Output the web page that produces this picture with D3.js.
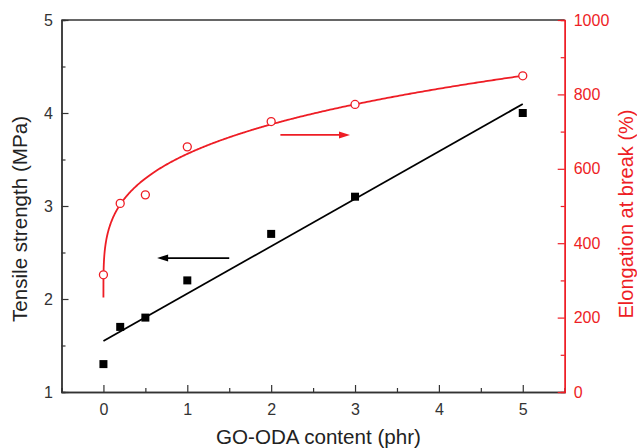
<!DOCTYPE html>
<html>
<head>
<meta charset="utf-8">
<script src="https://cdn.jsdelivr.net/npm/d3@7"></script>
<style>
  html, body { margin: 0; padding: 0; background: #fff; }
  svg { display: block; font-family: Arial, "Liberation Sans", Helvetica, sans-serif; }
</style>
</head>
<body>
<svg id="chart" width="637" height="448"></svg>
<script>
// GO-ODA loading (phr)
const content = [0, 0.2, 0.5, 1, 2, 3, 5];
// Tensile strength (MPa)
const tensile = [1.3, 1.7, 1.8, 2.2, 2.7, 3.1, 4.0];
// Elongation at break (%)
const elongation = [315, 507, 530, 659, 727, 773, 850];

// Axis ticks
const xTicks = [0, 1, 2, 3, 4, 5];
const yLeftTicks = [1, 2, 3, 4, 5];
const yRightTicks = [0, 200, 400, 600, 800, 1000];

// Allometric fit of elongation: y = a + b * x^c
const elongFit = { a: 254, b: 386, c: 0.27 };

// Annotation arrows (data units): which axis each one refers to
const arrowTensile = { from: [1.5, 2.44], to: [0.64, 2.44] };
const arrowElong = { from: [2.11, 691], to: [2.94, 691] };

const RED = "#ee1d25";
const svg = d3.select("#chart");
const m = { left: 61.5, right: 564.7, top: 20, bottom: 392 };

const x = d3.scaleLinear().domain([-0.5, 5.5]).range([m.left, m.right]);
const yL = d3.scaleLinear().domain([1, 5]).range([m.bottom, m.top]);
const yR = d3.scaleLinear().domain([0, 1000]).range([m.bottom, m.top]);

const tickFont = 16;

// top frame line
svg.append("line")
  .attr("x1", m.left).attr("x2", m.right).attr("y1", m.top).attr("y2", m.top)
  .attr("stroke", "#333").attr("stroke-width", 1.3);

function styleAxis(g, color) {
  g.select(".domain").attr("stroke", color).attr("stroke-width", 1.4);
  g.selectAll(".tick line").attr("stroke", color).attr("stroke-width", 1.2);
  g.selectAll(".tick text").attr("fill", color).attr("font-size", tickFont)
    .attr("font-family", "Arial, 'Liberation Sans', sans-serif");
}

// bottom axis: minor ticks at halves, majors inward
const gxMinor = svg.append("g").attr("transform", `translate(0,${m.bottom})`)
  .call(d3.axisBottom(x).tickValues(d3.range(-0.5, 5.51, 0.5).filter(v => !Number.isInteger(v)))
    .tickSize(-4).tickFormat(""));
styleAxis(gxMinor, "#333");
const gx = svg.append("g").attr("transform", `translate(0,${m.bottom})`)
  .call(d3.axisBottom(x).tickValues(xTicks).tickSize(-7).tickSizeOuter(0).tickPadding(12).tickFormat(d3.format("d")));
styleAxis(gx, "#333");

// left axis
const gyMinor = svg.append("g").attr("transform", `translate(${m.left},0)`)
  .call(d3.axisLeft(yL).tickValues([1.5, 2.5, 3.5, 4.5]).tickSize(-4).tickFormat(""));
styleAxis(gyMinor, "#333");
const gy = svg.append("g").attr("transform", `translate(${m.left},0)`)
  .call(d3.axisLeft(yL).tickValues(yLeftTicks).tickSize(-7).tickSizeOuter(0).tickPadding(8.5).tickFormat(d3.format("d")));
styleAxis(gy, "#333");

// right axis (red)
const gyrMinor = svg.append("g").attr("transform", `translate(${m.right},0)`)
  .call(d3.axisRight(yR).tickValues([100, 300, 500, 700, 900]).tickSize(-4).tickFormat(""));
styleAxis(gyrMinor, RED);
const gyr = svg.append("g").attr("transform", `translate(${m.right},0)`)
  .call(d3.axisRight(yR).tickValues(yRightTicks).tickSize(-7).tickSizeOuter(0).tickPadding(9).tickFormat(d3.format("d")));
styleAxis(gyr, RED);

// axis titles
svg.append("text")
  .attr("x", 318.5).attr("y", 443.5)
  .attr("text-anchor", "middle").attr("font-size", 20.6).attr("fill", "#222")
  .text("GO-ODA content (phr)");
svg.append("text")
  .attr("transform", "translate(27,219) rotate(-90)")
  .attr("text-anchor", "middle").attr("font-size", 20.6).attr("fill", "#222")
  .text("Tensile strength (MPa)");
svg.append("text")
  .attr("transform", "translate(632.5,214) rotate(-90)")
  .attr("text-anchor", "middle").attr("font-size", 20).attr("fill", RED)
  .text("Elongation at break (%)");

// linear least-squares fit of tensile strength
const mx = d3.mean(content), my = d3.mean(tensile);
const slope = d3.sum(content, (v, i) => (v - mx) * (tensile[i] - my)) /
              d3.sum(content, v => (v - mx) * (v - mx));
const intercept = my - slope * mx;
const xExt = d3.extent(content);
svg.append("path")
  .datum(xExt.map(v => [v, intercept + slope * v]))
  .attr("d", d3.line().x(d => x(d[0])).y(d => yL(d[1])))
  .attr("fill", "none").attr("stroke", "#000").attr("stroke-width", 1.8);

// elongation fit curve
const fitXs = d3.range(0, 400.5).map(i => xExt[0] + (xExt[1] - xExt[0]) * Math.pow(i / 400, 2));
svg.append("path")
  .datum(fitXs.map(v => [v, elongFit.a + elongFit.b * Math.pow(v, elongFit.c)]))
  .attr("d", d3.line().x(d => x(d[0])).y(d => yR(d[1])))
  .attr("fill", "none").attr("stroke", RED).attr("stroke-width", 1.8);

// tensile markers: filled squares
const sq = 8;
svg.append("g").selectAll("rect").data(content).join("rect")
  .attr("x", (d) => x(d) - sq / 2)
  .attr("y", (d, i) => yL(tensile[i]) - sq / 2)
  .attr("width", sq).attr("height", sq).attr("fill", "#000");

// elongation markers: open circles
svg.append("g").selectAll("circle").data(content).join("circle")
  .attr("cx", d => x(d))
  .attr("cy", (d, i) => yR(elongation[i]))
  .attr("r", 4).attr("fill", "#fff").attr("stroke", RED).attr("stroke-width", 1.3);

// arrows pointing to the axis each series belongs to
function arrow(a, yScale, color) {
  const x1 = x(a.from[0]), y1 = yScale(a.from[1]);
  const x2 = x(a.to[0]), y2 = yScale(a.to[1]);
  const dir = Math.sign(x2 - x1);
  const head = 11, half = 3.5;
  svg.append("line").attr("x1", x1).attr("y1", y1).attr("x2", x2 - dir * head * 0.8).attr("y2", y2)
    .attr("stroke", color).attr("stroke-width", 1.8);
  svg.append("path")
    .attr("d", `M${x2},${y2} L${x2 - dir * head},${y2 - half} L${x2 - dir * head},${y2 + half} Z`)
    .attr("fill", color);
}
arrow(arrowTensile, yL, "#000");
arrow(arrowElong, yR, RED);
</script>
</body>
</html>
